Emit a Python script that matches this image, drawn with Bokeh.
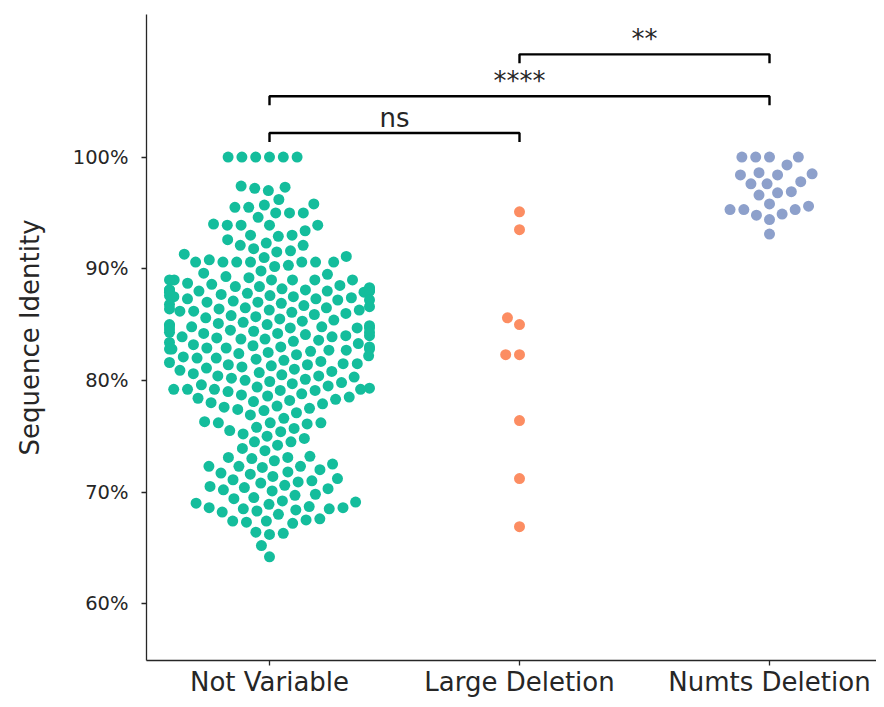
import numpy as np
from bokeh.plotting import figure
from bokeh.models import Range1d, FixedTicker, ColumnDataSource
from bokeh.core.properties import value
from bokeh.embed import file_html
from bokeh.resources import INLINE

# ---------------- data ----------------
categories = ["Not Variable", "Large Deletion", "Numts Deletion"]
colors = ["#14bd9c", "#fc8d62", "#8da0cb"]

not_variable = [
    100, 100, 100, 100, 100, 100,
    97.2, 97.0, 97.3, 97.4,
    96.2, 95.8, 95.7, 95.5, 95.5, 95.0, 95.0, 95.0, 94.6,
    94.0, 93.9, 93.9, 93.9, 93.9, 93.4,
    93.0, 93.0, 92.9, 92.6, 92.3, 92.1, 92.1,
    91.8, 91.5, 91.3, 91.1, 91.6, 91.0,
    90.6, 90.6, 90.6, 90.6, 90.6, 90.6, 90.6, 90.8, 90.2, 90.3,
    89.8, 89.6, 89.5, 89.3, 89.0, 89.0, 89.0, 89.0, 89.0, 89.0, 89.2,
    88.7, 88.5, 88.4, 88.2, 88.1, 88.0, 88.0, 87.9, 88.1, 88.3, 88.0, 87.8, 88.2, 87.9, 88.6, 88.4, 88.0, 88.1,
    87.7, 87.6, 87.5, 87.3, 87.2, 87.0, 87.4, 87.1, 87.6, 87.3, 86.9, 87.5, 87.0, 87.2,
    86.8, 86.6, 86.5, 86.3, 86.2, 86.0, 86.4, 86.1, 86.7, 86.3, 85.9, 86.5, 86.2, 85.8, 86.4,
    85.7, 85.5, 85.4, 85.2, 85.1, 85.0, 84.9, 84.8, 84.8, 84.7, 84.7, 85.3, 85.6, 84.9, 85.0, 84.6, 84.7,
    84.5, 84.3, 84.2, 84.0, 83.9, 84.4, 84.1, 83.8, 83.7, 84.2, 83.6, 83.9, 84.0, 83.7, 84.3,
    83.5, 83.3, 83.2, 83.0, 82.9, 82.8, 82.8, 82.7, 82.6, 83.1, 83.4, 82.9, 82.7, 82.5, 83.0, 82.8,
    82.4, 82.3, 82.1, 82.0, 81.9, 81.8, 81.6, 81.5, 81.4, 82.2, 81.7, 81.3, 81.5, 82.0, 81.4,
    81.2, 81.0, 80.9, 80.8, 80.6, 80.5, 80.3, 80.2, 80.0, 81.1, 80.7, 80.4, 80.1, 80.4,
    79.9, 79.7, 79.5, 79.3, 79.2, 79.2, 79.1, 79.0, 79.2, 79.4, 79.6, 79.8, 79.1, 79.2,
    78.8, 78.6, 78.4, 78.2, 78.0, 78.5, 78.1, 78.7, 78.3, 77.9,
    77.7, 77.5, 77.3, 77.1, 77.6, 76.9, 77.4,
    76.6, 76.2, 76.2, 76.2, 76.3, 76.1, 75.8,
    75.7, 75.4, 75.2, 75.0, 75.5, 74.8,
    74.5, 74.5, 74.2, 73.9, 73.7,
    73.1, 73.1, 73.2, 73.0, 72.8,
    72.5, 72.3, 72.3, 72.3, 72.2, 72.0, 71.8, 71.6, 71.7,
    71.4, 71.2, 71.0, 70.8, 70.6, 71.1, 70.9,
    70.5, 70.3, 70.1, 69.8, 70.4, 70.2,
    69.7, 69.4, 69.2, 69.0, 69.5, 69.1,
    68.9, 68.7, 68.6, 68.5, 68.5, 68.4, 68.2, 68.0, 68.6, 68.3,
    67.6, 67.4, 67.4, 67.5, 67.2, 67.3,
    66.4, 66.3, 66.2, 65.2, 64.2,
]
large_deletion = [95.1, 93.5, 85.6, 85.0, 82.3, 82.3, 76.4, 71.2, 66.9]
numts_deletion = [100, 100, 100, 100, 99.3, 98.6, 98.4, 98.4, 98.5, 97.8, 97.6, 97.6,
                  96.9, 96.6, 96.8, 95.3, 95.3, 94.8, 95.6, 94.4, 94.9, 95.3, 95.8, 93.1]
groups = [not_variable, large_deletion, numts_deletion]

y_ticks = [60, 70, 80, 90, 100]
y_tick_labels = ["60%", "70%", "80%", "90%", "100%"]

# significance brackets: (group a, group b, height, label)
pair_a = [0, 0, 1]
pair_b = [1, 2, 2]
pair_h = [102.15, 105.45, 109.2]
pair_text = ["ns", "****", "**"]

# ---------------- layout helpers ----------------
W, H = 876, 699
ML, MR, MT, MB = 146, 0, 14, 37
x0 = -0.492
x1 = x0 + (W - ML - MR) / 250.0
y0, y1 = 54.91, 112.77
px_per_x = (W - ML - MR) / (x1 - x0)
px_per_y = (H - MT - MB) / (y1 - y0)
D = 13.8          # collision diameter (px)
HALF = 100.0      # gutter half-width (px)


def swarm(vals):
    vals = np.asarray(vals, dtype=float)
    order = np.argsort(vals, kind="stable")
    placed = []
    xs = np.zeros(len(vals))
    for i in order:
        y = vals[i] * px_per_y
        neigh = [(px, py) for px, py in placed if abs(py - y) < D]
        cands = [0.0]
        for px, py in neigh:
            dx = np.sqrt(max(D * D - (py - y) ** 2, 0.0))
            cands += [px - dx, px + dx]
        cands = sorted(cands, key=lambda c: (round(abs(c), 6), c))
        chosen = cands[-1]
        for c in cands:
            if all((c - px) ** 2 + (y - py) ** 2 >= D * D - 1e-6 for px, py in neigh):
                chosen = c
                break
        placed.append((chosen, y))
        xs[i] = chosen
    xs = np.clip(xs, -HALF, HALF)
    return xs / px_per_x


p = figure(width=W, height=H, x_range=Range1d(x0, x1), y_range=Range1d(y0, y1),
           output_backend="svg", toolbar_location=None,
           min_border_left=ML, min_border_right=MR, min_border_top=MT, min_border_bottom=MB)
p.outline_line_color = None
p.xgrid.visible = False
p.ygrid.visible = False
p.background_fill_color = "white"
p.border_fill_color = "white"

for gi, vals in enumerate(groups):
    offs = swarm(vals)
    src = ColumnDataSource(dict(x=gi + offs, y=vals))
    p.scatter("x", "y", source=src, size=11, fill_color=colors[gi], line_color=None)

# brackets
tick = 0.8
for a, b, h, t in zip(pair_a, pair_b, pair_h, pair_text):
    p.line([a, a, b, b], [h - tick, h, h, h - tick], line_color="black", line_width=2.4)
p.text(x=[(a + b) / 2 for a, b in zip(pair_a, pair_b)], y=pair_h, text=pair_text,
       text_align="center", text_baseline="bottom", y_offset=0,
       text_font=value("DejaVu Sans"), text_font_size="26px", text_color="#262626")

font = "DejaVu Sans"
for ax in (p.xaxis[0], p.yaxis[0]):
    ax.axis_line_color = "#262626"
    ax.axis_line_width = 1.3
    ax.major_tick_line_color = "#262626"
    ax.major_tick_line_width = 1.3
    ax.major_tick_out = 5
    ax.major_tick_in = 0
    ax.minor_tick_line_color = None
    ax.major_label_text_font = font
    ax.major_label_text_color = "#262626"

p.xaxis.ticker = FixedTicker(ticks=[0, 1, 2])
p.xaxis.major_label_overrides = {i: c for i, c in enumerate(categories)}
p.xaxis.major_label_text_font_size = "26px"
p.xaxis.major_label_standoff = 1
p.yaxis.ticker = FixedTicker(ticks=y_ticks)
p.yaxis.major_label_overrides = {t: l for t, l in zip(y_ticks, y_tick_labels)}
p.yaxis.major_label_text_font_size = "19.5px"
p.yaxis.major_label_standoff = 13
p.yaxis.axis_label = "Sequence Identity"
p.yaxis.axis_label_text_font = font
p.yaxis.axis_label_text_font_size = "26px"
p.yaxis.axis_label_text_font_style = "normal"
p.yaxis.axis_label_text_color = "#262626"
p.yaxis.axis_label_standoff = 25

open("out.html", "w").write(file_html(p, INLINE))
